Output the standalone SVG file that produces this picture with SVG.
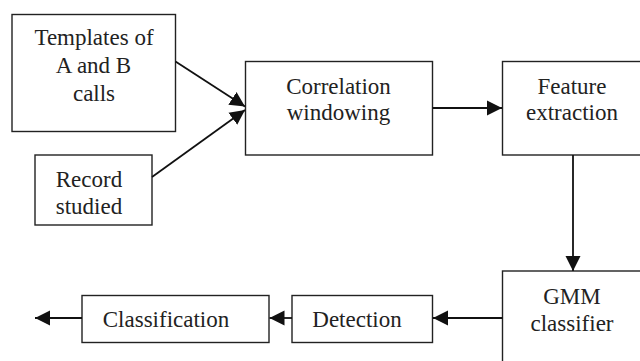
<svg xmlns="http://www.w3.org/2000/svg" width="640" height="361" viewBox="0 0 640 361">
<style>
.box{fill:#fff;stroke:#222;stroke-width:1.4}
.lbl{font-family:"Liberation Serif","Times New Roman",serif;font-size:23px;fill:#222;text-anchor:middle}
.con{stroke:#111;stroke-width:1.8;fill:none}
</style>
<defs>
<marker id="ah" markerUnits="userSpaceOnUse" markerWidth="16" markerHeight="16" refX="15" refY="8" orient="auto" viewBox="0 0 16 16">
<path d="M0,0.5 L15,8 L0,15.5 z" fill="#111"/>
</marker>
</defs>
<rect width="640" height="361" fill="#fff"/>
<g id="templates"><rect class="box" x="12" y="14.5" width="163.5" height="117"/>
<text class="lbl" x="94" y="45">Templates of</text><text class="lbl" x="93.5" y="73">A and B</text><text class="lbl" x="94" y="100.5">calls</text></g>
<g id="record"><rect class="box" x="35" y="155" width="117" height="70"/>
<text class="lbl" x="89" y="186.5">Record</text><text class="lbl" x="89" y="213.5">studied</text></g>
<g id="correlation"><rect class="box" x="245.5" y="61.5" width="187" height="93.5"/>
<text class="lbl" x="338.5" y="93.5">Correlation</text><text class="lbl" x="338.5" y="120">windowing</text></g>
<g id="feature"><rect class="box" x="502.5" y="61.5" width="160" height="93.5"/>
<text class="lbl" x="572" y="93.5">Feature</text><text class="lbl" x="572" y="120">extraction</text></g>
<g id="gmm"><rect class="box" x="502.5" y="271" width="160" height="110"/>
<text class="lbl" x="572" y="304">GMM</text><text class="lbl" x="572" y="330.5">classifier</text></g>
<g id="detection"><rect class="box" x="292" y="295.5" width="140.5" height="47"/>
<text class="lbl" x="357" y="326.5">Detection</text></g>
<g id="classification"><rect class="box" x="82" y="295.5" width="187" height="47"/>
<text class="lbl" x="166" y="326.5">Classification</text></g>
<g id="connectors">
<line class="con" x1="175.5" y1="61.5" x2="245" y2="106.5" marker-end="url(#ah)"/>
<line class="con" x1="152" y1="177" x2="245" y2="110" marker-end="url(#ah)"/>
<line class="con" x1="432.5" y1="108" x2="502" y2="108" marker-end="url(#ah)"/>
<line class="con" x1="573" y1="155" x2="573" y2="271" marker-end="url(#ah)"/>
<line class="con" x1="502.5" y1="318" x2="433" y2="318" marker-end="url(#ah)"/>
<line class="con" x1="292" y1="318" x2="269.5" y2="318" marker-end="url(#ah)"/>
<line class="con" x1="82" y1="318" x2="35" y2="318" marker-end="url(#ah)"/>
</g>
</svg>
